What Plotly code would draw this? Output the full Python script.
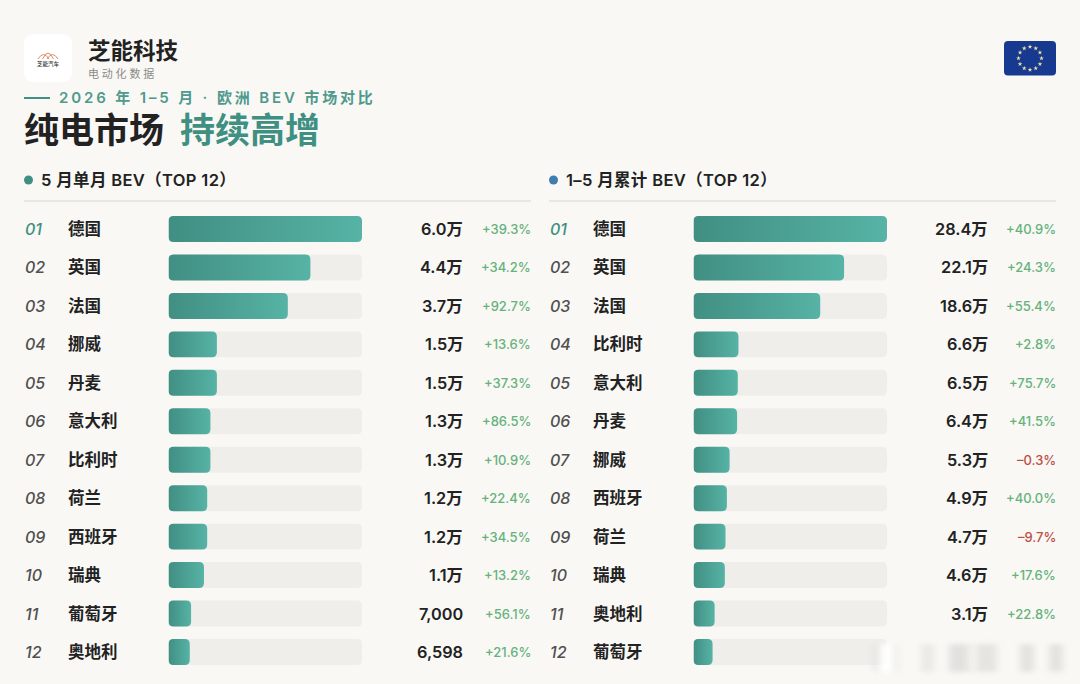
import math
import plotly.graph_objects as go

W, H = 1080, 684

# Monthly ranking (May 2026)
may_countries = ["德国", "英国", "法国", "挪威", "丹麦", "意大利", "比利时", "荷兰", "西班牙", "瑞典", "葡萄牙", "奥地利"]
may_units = [60000, 44000, 37000, 15000, 15000, 13000, 13000, 12000, 12000, 11000, 7000, 6598]
may_growth = [39.3, 34.2, 92.7, 13.6, 37.3, 86.5, 10.9, 22.4, 34.5, 13.2, 56.1, 21.6]

# Cumulative ranking (Jan-May 2026); the last row carries no printed figures
ytd_countries = ["德国", "英国", "法国", "比利时", "意大利", "丹麦", "挪威", "西班牙", "荷兰", "瑞典", "奥地利", "葡萄牙"]
ytd_units = [284000, 221000, 186000, 66000, 65000, 64000, 53000, 49000, 47000, 46000, 31000, 28000]
ytd_growth = [40.9, 24.3, 55.4, 2.8, 75.7, 41.5, -0.3, 40.0, -9.7, 17.6, 22.8, None]
ytd_hidden_rows = [11]

ranks = [f"{i:02d}" for i in range(1, 13)]

FONT = "Inter, 'Noto Sans CJK SC', sans-serif"
BG = "#f9f8f5"
TEAL = "#3f9082"
INK = "#222222"
GREEN = "#66b27c"
RED = "#bd4f45"


def fx(px):
    return px / W


def fy(px):
    return 1 - px / H


def fmt_units(v):
    return f"{v / 10000:.1f}万" if v >= 10000 else f"{v:,}"


def fmt_growth(g):
    return f"+{g:.1f}%" if g >= 0 else f"–{abs(g):.1f}%"


def rounded(x0, y0, x1, y1, r):
    """Rounded rectangle path in paper coordinates, from pixel corners."""
    ky = 1 / H
    kx = 1 / W
    X0, X1 = x0 * kx, x1 * kx
    Y0, Y1 = fy(y0), fy(y1)
    rx, ry = r * kx, r * ky
    return (
        f"M{X0 + rx},{Y0} L{X1 - rx},{Y0} Q{X1},{Y0} {X1},{Y0 - ry} "
        f"L{X1},{Y1 + ry} Q{X1},{Y1} {X1 - rx},{Y1} L{X0 + rx},{Y1} "
        f"Q{X0},{Y1} {X0},{Y1 + ry} L{X0},{Y0 - ry} Q{X0},{Y0} {X0 + rx},{Y0} Z"
    )


fig = go.Figure()
annotations = []
shapes = []


def text(px, py, s, size, color=INK, weight=400, anchor="left", style="normal", yref=None):
    annotations.append(dict(
        x=fx(px), xref="paper",
        y=py if yref else fy(py), yref=yref or "paper",
        text=s, showarrow=False, xanchor=anchor, yanchor="middle", align=anchor,
        font=dict(family=FONT, size=size, color=color, weight=weight, style=style),
        borderpad=0, borderwidth=0,
    ))


ROW_TOP, ROW_BOTTOM = 209.8, 671.2


def panel(idx, left, countries, units, growth, hidden=()):
    """One ranking table: rank, country, bar on a track, volume, growth."""
    track_x0, track_x1 = left + 144.5, left + 338
    suffix = "" if idx == 1 else str(idx)
    xa, ya = f"x{suffix}", f"y{suffix}"
    top = max(units)
    fig.add_trace(go.Bar(
        y=ranks, x=[top] * 12, orientation="h", xaxis=xa, yaxis=ya,
        marker=dict(color="#efeeea", line_width=0), hoverinfo="skip", showlegend=False,
    ))
    fig.add_trace(go.Bar(
        y=ranks, x=units, orientation="h", xaxis=xa, yaxis=ya,
        marker=dict(color=TEAL, line_width=0), showlegend=False, name="bev",
    ))
    fig.update_layout(**{
        f"xaxis{suffix}": dict(domain=[fx(track_x0), fx(track_x1)], range=[0, top], visible=False, fixedrange=True),
        f"yaxis{suffix}": dict(domain=[fy(ROW_BOTTOM), fy(ROW_TOP)], type="category", categoryorder="array",
                               categoryarray=ranks, range=[11.5, -0.5], visible=False, fixedrange=True),
    })
    # Row text is placed by category index on the shared y axis
    for i, rank in enumerate(ranks):
        text(left + 1, i, rank, 16, TEAL if i == 0 else "#505050", 500, style="italic", yref=ya)
        text(left + 44, i, countries[i], 16.5, INK, 600, yref=ya)
        if i in hidden:
            continue
        text(left + 439, i, fmt_units(units[i]), 16.3, INK, 600, anchor="right", yref=ya)
        g = growth[i]
        text(left + 506.5, i, fmt_growth(g), 13, GREEN if g >= 0 else RED, 500, anchor="right", yref=ya)


panel(1, 24, may_countries, may_units, may_growth)
panel(2, 549, ytd_countries, ytd_units, ytd_growth, ytd_hidden_rows)

# Brand badge with the small car mark
shapes.append(dict(type="path", xref="paper", yref="paper", path=rounded(24, 34, 72, 82, 11),
                   fillcolor="#ffffff", line_width=0))
for cx, rx, ry in [(43.5, 5.5, 4.5), (48, 5.5, 6), (52.5, 5.5, 4.5)]:
    shapes.append(dict(
        type="path", xref="paper", yref="paper", fillcolor="rgba(0,0,0,0)",
        line=dict(color="#dc7f55", width=0.9),
        path=f"M{fx(cx - rx)},{fy(59)} Q{fx(cx)},{fy(59 - 2 * ry)} {fx(cx + rx)},{fy(59)}",
    ))
text(48, 64, "芝能汽车", 5.5, "#333333", 500, anchor="center")

# Header copy
text(88, 50.5, "芝能科技", 22.5, INK, 600)
text(88, 74, "电动化数据", 11, "#8b8b88", 400)
shapes.append(dict(type="rect", xref="paper", yref="paper", x0=fx(24), x1=fx(50), y0=fy(97), y1=fy(99),
                   fillcolor=TEAL, line_width=0))
text(59, 98, "2026 年 1–5 月 · 欧洲 BEV 市场对比", 15, "#4f9a8d", 600)
text(24, 130, "纯电市场", 35, INK, 700)
text(180, 130, "持续高增", 35, TEAL, 700)

# EU flag, kept beneath the star trace
shapes.append(dict(type="path", xref="paper", yref="paper", path=rounded(1004, 41, 1056, 75.5, 4),
                   fillcolor="#17398f", line_width=0, layer="below"))
fig.add_trace(go.Scatter(
    x=[fx(1030 + 11.5 * math.sin(math.radians(a))) for a in range(0, 360, 30)],
    y=[fy(58.3 - 11.5 * math.cos(math.radians(a))) for a in range(0, 360, 30)],
    xaxis="x3", yaxis="y3", mode="markers",
    marker=dict(symbol="star", size=3.6, color="#e8e0a4", line_width=0),
    hoverinfo="skip", showlegend=False,
))
fig.update_layout(
    xaxis3=dict(domain=[0, 1], range=[0, 1], visible=False, fixedrange=True),
    yaxis3=dict(domain=[0, 1], range=[0, 1], visible=False, fixedrange=True),
)

# Section headings and their rules
for left, x1, dot, title in [(24, 531, TEAL, "5 月单月 BEV（TOP 12）"), (549, 1056, "#3f7cb0", "1–5 月累计 BEV（TOP 12）")]:
    shapes.append(dict(type="circle", xref="paper", yref="paper", x0=fx(left), x1=fx(left + 9),
                       y0=fy(184.5), y1=fy(175.5), fillcolor=dot, line_width=0))
    text(left + 17, 180, title, 16.5, INK, 600)
    shapes.append(dict(type="rect", xref="paper", yref="paper", x0=fx(left), x1=fx(x1), y0=fy(200), y1=fy(202),
                       fillcolor="#e9e7e2", line_width=0))

# Smudged overlay in the lower right corner
for x0, x1, color, op in [
    (872, 880, "#dcdcd9", 0.4), (881, 892, "#ffffff", 1), (893, 900, "#e0e0de", 0.3),
    (921, 934, "#d8d8d5", 0.45), (949, 968, "#cfcfcc", 0.55), (968, 973, "#dcdcd9", 0.35),
    (976, 997, "#d2d2cf", 0.5), (1020, 1034, "#d2d2cf", 0.55), (1049, 1063, "#d2d2cf", 0.55),
]:
    shapes.append(dict(type="rect", xref="paper", yref="paper", x0=fx(x0), x1=fx(x1), y0=fy(672), y1=fy(644),
                       fillcolor=color, opacity=op, line_width=0))

fig.update_layout(
    width=W, height=H, margin=dict(l=0, r=0, t=0, b=0),
    paper_bgcolor=BG, plot_bgcolor="rgba(0,0,0,0)",
    barmode="overlay", bargap=0.324,
    annotations=annotations, shapes=shapes, hovermode=False,
    font=dict(family=FONT),
)

# Horizontal gradient and four rounded corners on the bars, letter spacing on the
# header lines, and a soft blur on the corner smudge: no native Plotly attribute covers these.
post = """
var gd = document.getElementById('{plot_id}');
function finish() {
  var svg = gd.querySelector('svg.main-svg');
  var ns = 'http://www.w3.org/2000/svg';
  var defs = document.createElementNS(ns, 'defs');
  defs.innerHTML = '<linearGradient id="barfade" x1="0" y1="0" x2="1" y2="0">' +
    '<stop offset="0" stop-color="#418f83"/><stop offset="1" stop-color="#56b3a5"/></linearGradient>' +
    '<filter id="soft" x="-60%" y="-50%" width="220%" height="200%"><feGaussianBlur stdDeviation="3.5 2.5"/></filter>';
  svg.insertBefore(defs, svg.firstChild);
  gd.querySelectorAll('.barlayer .point path').forEach(function (p) {
    var b = p.getBBox(), r = 5;
    var x0 = b.x, x1 = b.x + b.width, y0 = b.y, y1 = b.y + b.height;
    p.setAttribute('d',
      'M' + (x0 + r) + ',' + y0 + 'H' + (x1 - r) + 'Q' + x1 + ',' + y0 + ' ' + x1 + ',' + (y0 + r) +
      'V' + (y1 - r) + 'Q' + x1 + ',' + y1 + ' ' + (x1 - r) + ',' + y1 +
      'H' + (x0 + r) + 'Q' + x0 + ',' + y1 + ' ' + x0 + ',' + (y1 - r) +
      'V' + (y0 + r) + 'Q' + x0 + ',' + y0 + ' ' + (x0 + r) + ',' + y0 + 'Z');
    if (p.style.fill.indexOf('63, 144, 130') >= 0) { p.style.fill = 'url(#barfade)'; }
  });
  gd.querySelectorAll('.annotation-text').forEach(function (t) {
    var s = t.textContent;
    if (s.indexOf('电动化') === 0) { t.style.letterSpacing = '2.8px'; }
    if (s.indexOf('2026') === 0) { t.style.letterSpacing = '2.85px'; }
    if (s.indexOf('TOP 12') >= 0) { t.style.letterSpacing = '0.35px'; }
  });
  gd.querySelectorAll('.shapelayer path').forEach(function (p) {
    var m = (p.getAttribute('d') || '').match(/^M([\\d.]+),([\\d.]+)/);
    if (m && +m[2] > 640 && +m[1] > 860) { p.setAttribute('filter', 'url(#soft)'); }
  });
}
finish();
"""
fig.write_html("out.html", post_script=post, config={"displayModeBar": False})
